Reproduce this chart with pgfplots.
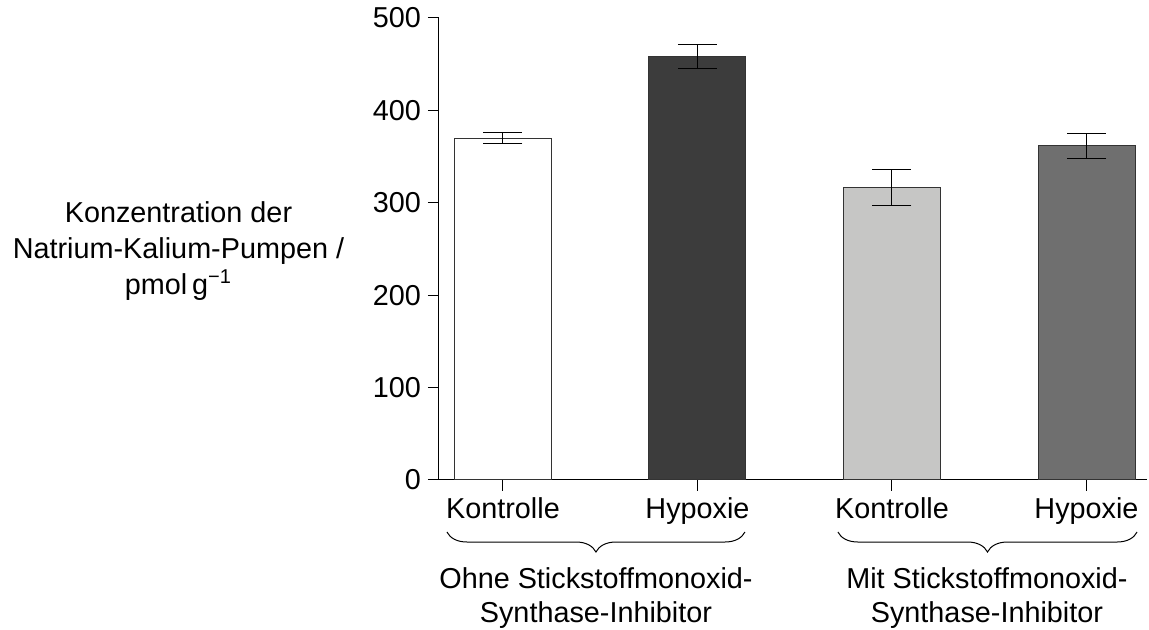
\documentclass[border=0pt]{standalone}
\usepackage{fontspec}
\setmainfont{Liberation Sans}
\usepackage{pgfplots}
\pgfplotsset{compat=1.18}
\usetikzlibrary{decorations.pathreplacing}

\definecolor{barB}{HTML}{3C3C3C}
\definecolor{barC}{HTML}{C6C6C5}
\definecolor{barD}{HTML}{6F6F6F}
\definecolor{edge}{HTML}{333333}

\pgfplotsset{
  eb/.style={error bars/.cd, y dir=both, y explicit,
    error bar style={black, line width=0.5pt},
    error mark options={black, rotate=90, mark size=9.75pt, line width=0.5pt}},
}

\begin{document}
\begin{tikzpicture}[font=\fontsize{14.4}{17.5}\selectfont]
\begin{axis}[
  scale only axis, width=354pt, height=231pt,
  xmin=-0.329, xmax=3.311, ymin=0, ymax=500,
  axis lines=left, axis line style={-, line width=0.5pt},
  ybar, bar width=48.5pt,
  xtick={0,1,2,3}, xticklabels={Kontrolle,Hypoxie,Kontrolle,Hypoxie},
  ytick={0,100,...,500},
  tick align=outside, major tick length=5.5pt,
  tick style={black, line width=0.5pt},
  /pgf/number format/assume math mode=true,
  ylabel={Konzentration der\\Natrium-Kalium-Pumpen /\\pmol\,g\textsuperscript{−1}},
  ylabel style={rotate=-90, align=center, font=\fontsize{14.4}{18}\selectfont,
    at={(rel axis cs:0,0.5)}, anchor=center, xshift=-130.25pt, yshift=-1pt},
  clip=false,
]
\addplot[bar shift=0pt, fill=white, draw=edge, line width=0.5pt, eb] coordinates {(0,370) +- (0,6)};
\addplot[bar shift=0pt, fill=barB, draw=edge, line width=0.5pt, eb] coordinates {(1,458.5) +- (0,13)};
\addplot[bar shift=0pt, fill=barC, draw=edge, line width=0.5pt, eb] coordinates {(2,317) +- (0,19.5)};
\addplot[bar shift=0pt, fill=barD, draw=edge, line width=0.5pt, eb] coordinates {(3,361.5) +- (0,14)};

\draw[decorate, decoration={brace, mirror, amplitude=10pt}, line width=0.5pt]
  (axis cs:-0.288,-56.3) -- (axis cs:1.244,-56.3);
\draw[decorate, decoration={brace, mirror, amplitude=10pt}, line width=0.5pt]
  (axis cs:1.722,-56.3) -- (axis cs:3.26,-56.3);
\node[anchor=north, align=center, inner sep=0pt, font=\fontsize{14.4}{17}\selectfont]
  at (axis cs:0.478,-94.2) {Ohne Stickstoffmonoxid-\\Synthase-Inhibitor};
\node[anchor=north, align=center, inner sep=0pt, font=\fontsize{14.4}{17}\selectfont]
  at (axis cs:2.488,-94.2) {Mit Stickstoffmonoxid-\\Synthase-Inhibitor};

\coordinate (sw) at (rel axis cs:0,0);
\coordinate (ne) at (rel axis cs:1,1);
\end{axis}
\pgfresetboundingbox
\path ([shift={(-219.5pt,-75pt)}]sw) rectangle ([shift={(1pt,9pt)}]ne);
\end{tikzpicture}
\end{document}
